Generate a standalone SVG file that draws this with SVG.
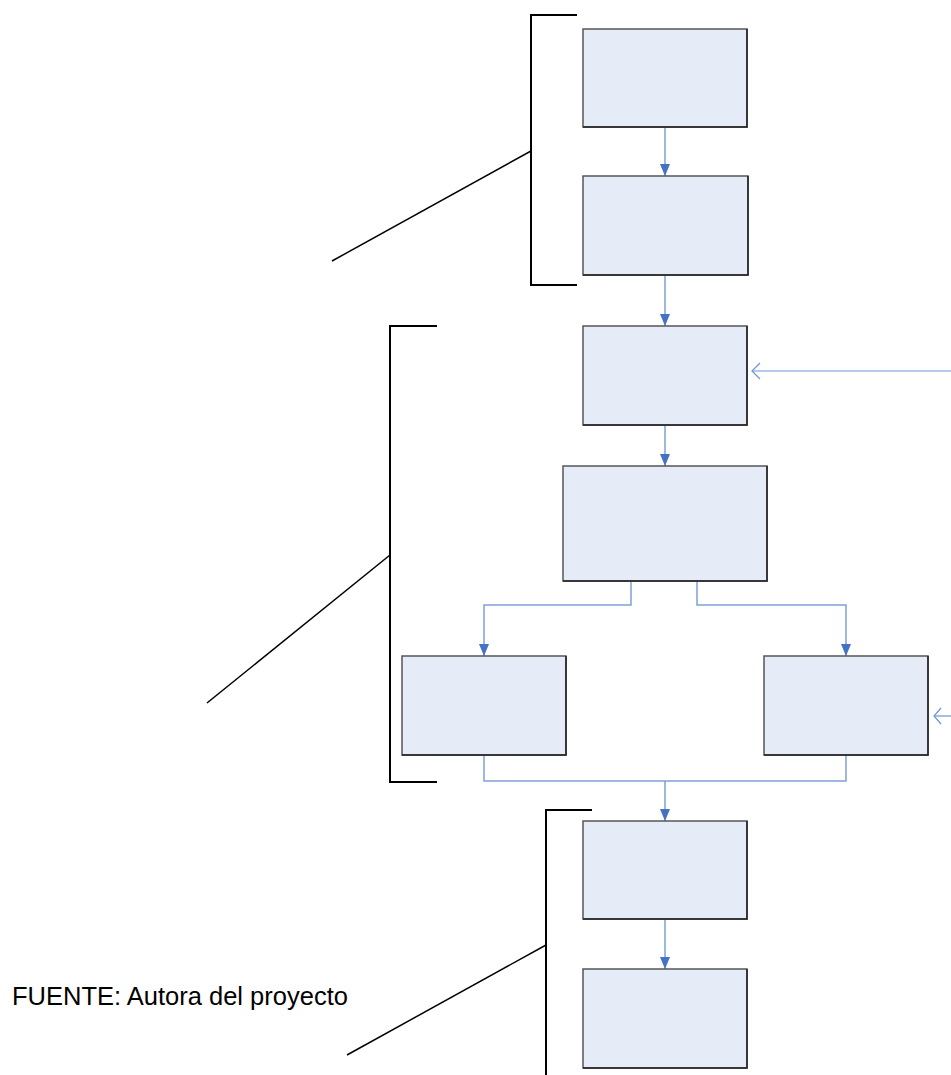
<svg xmlns="http://www.w3.org/2000/svg" width="951" height="1075" viewBox="0 0 951 1075">
<style>
.box{fill:#E6ECF7;stroke:#555;stroke-width:1.5}
.edge{fill:none;stroke:#222;stroke-width:1.5}
.conn{fill:none;stroke:#7EA1D9;stroke-width:1.5}
.brk{fill:none;stroke:#000;stroke-width:2}
.diag{stroke:#000;stroke-width:1.5}
.side{fill:none;stroke:#6F95D3;stroke-width:1.2}
.txt{font-family:"Liberation Sans",Arial,sans-serif;font-size:25.5px;fill:#000}
</style>
<defs>
<marker id="tri" viewBox="0 0 12 10" refX="12" refY="5" markerWidth="12" markerHeight="10" markerUnits="userSpaceOnUse" orient="auto">
<path d="M0,0 L12,5 L0,10 Z" fill="#4472C4"/>
</marker>
</defs>
<rect width="951" height="1075" fill="#fff"/>
<g id="brackets">
<path class="brk" d="M577,15 H531 V285 H577"/>
<line class="diag" x1="531" y1="151" x2="332" y2="261"/>
<path class="brk" d="M437,326 H390 V782 H437"/>
<line class="diag" x1="390" y1="555" x2="207" y2="703"/>
<path class="brk" d="M592,810 H546 V1075"/>
<line class="diag" x1="546" y1="945" x2="347" y2="1055"/>
</g>
<g id="connectors">
<line class="conn" x1="665" y1="128" x2="665" y2="176" marker-end="url(#tri)"/>
<line class="conn" x1="665" y1="276" x2="665" y2="326" marker-end="url(#tri)"/>
<line class="conn" x1="665" y1="426" x2="665" y2="466" marker-end="url(#tri)"/>
<path class="conn" d="M631,581 V605 H484 V656" marker-end="url(#tri)"/>
<path class="conn" d="M697,581 V605 H846 V656" marker-end="url(#tri)"/>
<path class="conn" d="M484,755 V781 H846 V755"/>
<line class="conn" x1="665" y1="781" x2="665" y2="821" marker-end="url(#tri)"/>
<line class="conn" x1="665" y1="920" x2="665" y2="969" marker-end="url(#tri)"/>
<line class="side" x1="951" y1="371" x2="752" y2="371"/>
<path class="side" d="M760,363 L752,371 L760,379"/>
<line class="side" x1="951" y1="716" x2="934" y2="716"/>
<path class="side" d="M941,708 L934,716 L941,724"/>
</g>
<g id="node1"><rect class="box" x="583" y="29" width="164" height="98"/><path class="edge" d="M747,29 V127 H583"/></g>
<g id="node2"><rect class="box" x="583" y="176" width="165" height="99"/><path class="edge" d="M748,176 V275 H583"/></g>
<g id="node3"><rect class="box" x="583" y="326" width="164" height="99"/><path class="edge" d="M747,326 V425 H583"/></g>
<g id="node4"><rect class="box" x="563" y="466" width="204" height="115"/><path class="edge" d="M767,466 V581 H563"/></g>
<g id="node5"><rect class="box" x="402" y="656" width="164" height="99"/><path class="edge" d="M566,656 V755 H402"/></g>
<g id="node6"><rect class="box" x="764" y="656" width="164" height="99"/><path class="edge" d="M928,656 V755 H764"/></g>
<g id="node7"><rect class="box" x="583" y="821" width="164" height="98"/><path class="edge" d="M747,821 V919 H583"/></g>
<g id="node8"><rect class="box" x="583" y="969" width="164" height="99"/><path class="edge" d="M747,969 V1068 H583"/></g>
<text class="txt" x="12" y="1005">FUENTE: Autora del proyecto</text>
</svg>
